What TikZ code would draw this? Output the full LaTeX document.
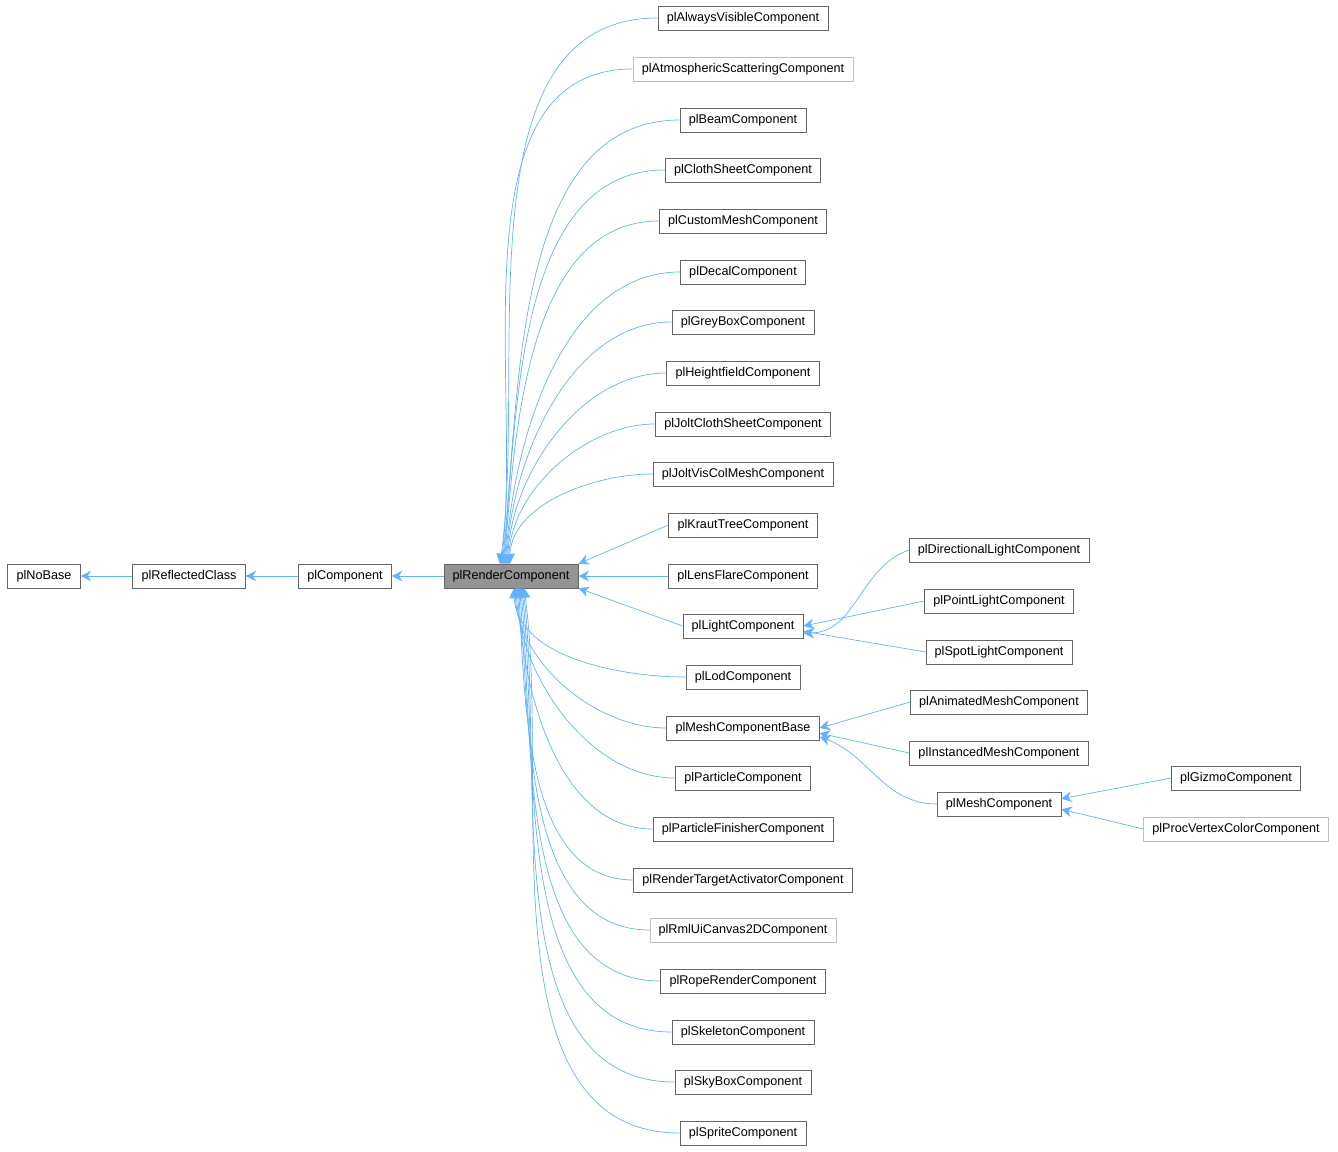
\documentclass[tikz,border=0pt]{standalone}
\usepackage{fontspec}
\setmainfont{Liberation Sans}
\usetikzlibrary{arrows.meta}
\definecolor{edgeblue}{RGB}{99,178,255}
\definecolor{boxgray}{RGB}{102,102,102}
\definecolor{softgray}{RGB}{190,190,190}
\tikzset{
  cls/.style={draw=boxgray, fill=white, inner xsep=5pt, minimum height=13.5pt, font=\fontsize{7.2}{8}\selectfont},
  ghost/.style={cls, draw=softgray},
  edge/.style={draw=edgeblue, <-, >={Stealth[length=6pt,width=6pt]}},
}
\begin{document}
\begin{tikzpicture}[x=0.02cm,y=-0.02cm]
  \useasboundingbox (0,0) rectangle (1338,1152);

  \node [cls] (nobase) at (44,576) {plNoBase};
  \node [cls] (refl) at (189,576) {plReflectedClass};
  \node [cls] (comp) at (345,576) {plComponent};
  \node [cls, fill=gray!85] (rc) at (511,576) {plRenderComponent};

  \draw [edge] (nobase) -- (refl);
  \draw [edge] (refl) -- (comp);
  \draw [edge] (comp) -- (rc);

  % children of the render component
  \foreach \nm/\yy/\st/\lbl in {
      a/18/cls/plAlwaysVisibleComponent,
      b/69/ghost/plAtmosphericScatteringComponent,
      c/120/cls/plBeamComponent,
      d/170/cls/plClothSheetComponent,
      e/221/cls/plCustomMeshComponent,
      f/272/cls/plDecalComponent,
      g/322/cls/plGreyBoxComponent,
      h/373/cls/plHeightfieldComponent,
      i/424/cls/plJoltClothSheetComponent,
      j/474/cls/plJoltVisColMeshComponent,
      m/677/cls/plLodComponent,
      n/728/cls/plMeshComponentBase,
      o/778/cls/plParticleComponent,
      p/829/cls/plParticleFinisherComponent,
      q/880/cls/plRenderTargetActivatorComponent,
      r/930/ghost/plRmlUiCanvas2DComponent,
      s/981/cls/plRopeRenderComponent,
      t/1032/cls/plSkeletonComponent,
      u/1082/cls/plSkyBoxComponent,
      v/1133/cls/plSpriteComponent} {
    \node [\st] (\nm) at (743,\yy) {\lbl};
    \pgfmathsetmacro{\sx}{512+12*(\yy-576)/557}
    \ifdim \yy pt<576pt
      \draw [edge] (\sx,564) to[out=92-0.1*(576-\yy)/5.57, in=180, looseness=0.9] (\nm.west);
    \else
      \draw [edge] (\sx,588) to[out=-92+0.1*(\yy-576)/5.57, in=180, looseness=0.9] (\nm.west);
    \fi
  }

  \node [cls] (kraut) at (743,525) {plKrautTreeComponent};
  \node [cls] (lens) at (743,576) {plLensFlareComponent};
  \node [cls] (light) at (743,626) {plLightComponent};
  \draw [edge] (rc.north east) -- (kraut.west);
  \draw [edge] (rc) -- (lens);
  \draw [edge] (rc.south east) -- (light.west);

  % lights
  \node [cls] (dir) at (999,550) {plDirectionalLightComponent};
  \node [cls] (point) at (999,601) {plPointLightComponent};
  \node [cls] (spot) at (999,652) {plSpotLightComponent};
  \draw [edge] ([yshift=-4pt]light.east) to[out=0,in=200] (dir.west);
  \draw [edge] (light.east) -- (point.west);
  \draw [edge] ([yshift=-3pt]light.east) -- (spot.west);

  % meshes
  \node [cls] (anim) at (999,702) {plAnimatedMeshComponent};
  \node [cls] (inst) at (999,753) {plInstancedMeshComponent};
  \node [cls] (mesh) at (999,804) {plMeshComponent};
  \draw [edge] (n.east) -- (anim.west);
  \draw [edge] ([yshift=-3pt]n.east) -- (inst.west);
  \draw [edge] ([yshift=-5pt]n.east) to[out=-20,in=180] (mesh.west);

  \node [cls] (gizmo) at (1236,778) {plGizmoComponent};
  \node [ghost] (proc) at (1236,829) {plProcVertexColorComponent};
  \draw [edge] ([yshift=3pt]mesh.east) -- (gizmo.west);
  \draw [edge] ([yshift=-3pt]mesh.east) -- (proc.west);
\end{tikzpicture}
\end{document}
